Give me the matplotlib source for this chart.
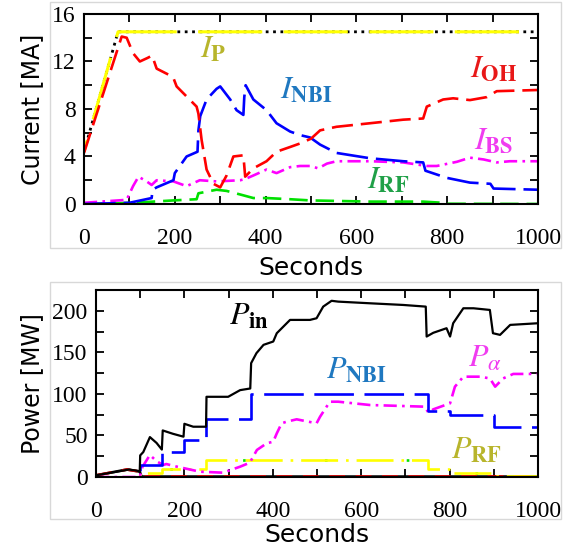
import matplotlib
matplotlib.use('Agg')
import matplotlib.pyplot as plt
from matplotlib.patches import Rectangle

plt.rcParams['mathtext.fontset'] = 'stix'

# ---- top panel: currents [MA] ----
t_ip = [0, 75, 1000]
i_p = [4.4, 14.5, 14.5]

t_oh = [0, 83, 94, 108, 123, 140, 150, 160, 196, 204, 248, 252, 259, 270, 285, 300,
        314, 329, 351, 355, 373, 402, 424, 454, 476, 500, 520, 556, 630, 703, 747,
        755, 791, 813, 850, 887, 909, 1000]
i_oh = [4.3, 14.1, 14.0, 12.7, 12.0, 12.3, 12.5, 11.4, 10.7, 9.9, 8.2, 7.6, 5.4, 2.9,
        1.7, 1.4, 2.4, 4.0, 4.1, 2.3, 3.0, 3.6, 4.4, 4.8, 5.1, 5.5, 6.2, 6.5, 6.8, 7.1,
        7.2, 8.2, 8.8, 8.9, 8.75, 9.0, 9.5, 9.6]

t_nbi = [0, 100, 149, 151, 160, 197, 200, 226, 250, 252, 256, 270, 292, 300, 322, 336,
         351, 353, 356, 373, 402, 424, 454, 476, 498, 520, 556, 630, 703, 747, 752,
         799, 850, 895, 902, 1000]
i_nbi = [0, 0.1, 0.5, 1.2, 1.4, 2.0, 2.6, 4.0, 4.4, 6.2, 7.4, 8.8, 9.7, 9.9, 8.8, 7.9,
         7.5, 9.0, 10.0, 8.8, 7.9, 6.8, 6.1, 5.8, 5.6, 5.0, 4.3, 3.85, 3.6, 3.5, 2.8,
         2.2, 1.8, 1.7, 1.3, 1.2]

t_bs = [0, 94, 108, 120, 138, 149, 160, 197, 226, 255, 292, 344, 355, 373, 402, 424,
        454, 476, 498, 516, 535, 556, 630, 703, 755, 777, 821, 850, 880, 909, 938, 1000]
i_bs = [0.1, 0.35, 1.5, 2.3, 1.9, 1.6, 2.0, 1.9, 1.5, 2.0, 1.9, 2.0, 2.1, 2.4, 2.9, 2.6,
        3.1, 3.2, 3.2, 3.0, 3.4, 3.6, 3.6, 3.5, 3.2, 3.2, 3.55, 3.9, 3.75, 3.5, 3.6, 3.6]

t_rf = [0, 108, 197, 248, 252, 292, 314, 344, 373, 402, 454, 498, 630, 747, 790, 800, 1000]
i_rf = [0, 0.1, 0.3, 0.4, 0.9, 1.2, 1.1, 0.8, 0.5, 0.5, 0.4, 0.3, 0.2, 0.2, 0.1, 0.02, 0.0]

# ---- bottom panel: powers [MW] ----
t_pin = [0, 75, 99, 100, 107, 122, 137, 149, 151, 174, 198, 200, 220, 249, 250, 273,
         299, 326, 349, 351, 363, 379, 401, 409, 424, 439, 484, 499, 514, 533, 548,
         620, 695, 746, 748, 763, 793, 801, 808, 831, 854, 891, 898, 914, 937, 1000]
p_in = [2, 9, 7, 26, 30, 48, 41, 33, 56, 52, 48.5, 64, 60.5, 60.5, 96.5, 96.5, 96.5,
        104.5, 106.5, 137, 149, 159, 163, 173, 181, 189, 189, 191, 205, 212, 211, 209,
        207, 205, 169, 173.5, 179, 169, 185, 203, 203, 201, 173, 171, 183, 185]

t_steps = [0, 100, 150, 200, 250, 350, 750, 800, 900, 1000]
p_nbi = [0, 15, 30, 45, 70, 100, 80, 75, 60, 60]

t_rfs = [0, 100, 150, 250, 750, 800, 900, 1000]
p_rf = [0, 5, 10, 20, 10, 5, 1, 1]

t_pa = [0, 99, 105, 122, 137, 152, 159, 181, 235, 287, 326, 348, 364, 386, 401, 409,
        420, 431, 454, 499, 507, 529, 548, 620, 695, 744, 752, 763, 801, 812, 831,
        869, 891, 903, 921, 944, 1000]
p_alpha = [0, 0, 12, 26.5, 19, 14.4, 15.6, 12.7, 6.4, 5.2, 12.4, 17.2, 32.5, 40.5, 42.5,
           52.5, 64.6, 66.5, 69.4, 64.6, 72.6, 90.6, 90.6, 86.6, 85.4, 84.6, 77.4, 81.4,
           88.7, 108.7, 120.7, 120.7, 118.6, 108.7, 118.6, 124, 124]

t_poh = [0, 70, 99, 103, 1000]
p_oh = [2, 9, 6.5, 0.5, 0.5]

olive = '#b8b52c'
lblue = '#1f78c0'
lmag = '#f03cf0'
lgreen = '#20a048'

fig = plt.figure(figsize=(5.73, 5.51), dpi=100)
ax1 = fig.add_axes([0.1466, 0.6298, 0.7924, 0.3448])
ax2 = fig.add_axes([0.1675, 0.1343, 0.7715, 0.3394])

# light grey frames around each panel
for y0, h in [(0.5499, 0.4465), (0.058, 0.430)]:
    fig.add_artist(Rectangle((0.0873, y0), 0.892, h, transform=fig.transFigure,
                             fill=False, edgecolor='#d8d8d8', lw=1))

lw = 1.9
ax1.plot(t_ip, i_p, color='black', lw=2, ls=':')
ax1.plot(t_ip, i_p, color='#ffff00', lw=2.2, ls=(17, (21, 7)))
ax1.plot(t_rf, i_rf, color='#00e000', lw=lw, ls=(0, (7, 3)))
ax1.plot(t_bs, i_bs, color='#ff00ff', lw=lw, ls=(0, (5, 2, 1, 2)))
ax1.plot(t_nbi, i_nbi, color='#0000ff', lw=lw, ls=(0, (12, 3)))
ax1.plot(t_oh, i_oh, color='#ff0000', lw=lw, ls=(0, (8, 3)))

ax2.plot(t_poh, p_oh, color='black', lw=lw)
ax2.plot(t_poh, p_oh, color='#ff0000', lw=lw, ls=(0, (6, 4)))
ax2.plot(t_rfs, p_rf, color='#00e000', lw=lw, drawstyle='steps-post', ls=(0, (1, 30)))
ax2.plot(t_rfs, p_rf, color='#ffff00', lw=lw, drawstyle='steps-post',
         ls=(0, (14, 3, 1, 3)))
ax2.plot(t_pa, p_alpha, color='#ff00ff', lw=lw, ls=(0, (5, 2, 1, 2)))
ax2.plot(t_steps, p_nbi, color='#0000ff', lw=lw, drawstyle='steps-post',
         ls=(0, (15, 4)))
ax2.plot(t_pin, p_in, color='black', lw=1.6)

lab = dict(ha='center', va='center', fontsize=23)
ax1.text(285, 13.0, r'$I_{\mathbf{P}}$', color=olive, **lab)
ax1.text(490, 9.7, r'$I_{\mathbf{NBI}}$', color=lblue, **lab)
ax1.text(903, 11.4, r'$I_{\mathbf{OH}}$', color='#e81818', **lab)
ax1.text(903, 5.4, r'$I_{\mathbf{BS}}$', color=lmag, **lab)
ax1.text(670, 2.0, r'$I_{\mathbf{RF}}$', color=lgreen, **lab)
ax2.text(346, 193, r'$P_{\mathbf{in}}$', color='black', **lab)
ax2.text(590, 129, r'$P_{\mathbf{NBI}}$', color=lblue, **lab)
ax2.text(880, 143, r'$P_{\alpha}$', color=lmag, **lab)
ax2.text(861, 32.5, r'$P_{\mathbf{RF}}$', color=olive, **lab)

ax1.set_ylim(0, 16)
ax1.set_yticks([0, 4, 8, 12, 16])
ax1.set_yticks(range(0, 17, 2), minor=True)
ax1.set_ylabel('Current [MA]', fontsize=17, family='DejaVu Sans', labelpad=6)

ax2.set_ylim(0, 225)
ax2.set_yticks([0, 50, 100, 150, 200])
ax2.set_yticks(range(0, 226, 25), minor=True)
ax2.set_ylabel('Power [MW]', fontsize=17, family='DejaVu Sans', labelpad=6)

for ax, lp in ((ax1, 5), (ax2, 1)):
    ax.set_xlim(0, 1000)
    ax.set_xticks(range(0, 1001, 200))
    ax.set_xticks(range(0, 1001, 100), minor=True)
    ax.set_xlabel('Seconds', fontsize=18, family='DejaVu Sans', labelpad=lp)
    ax.tick_params(which='both', direction='in', top=True, right=True,
                   length=6, width=1.3)
    ax.tick_params(axis='x', pad=17)
    ax.tick_params(axis='y', pad=6)
    for lbl in ax.get_xticklabels() + ax.get_yticklabels():
        lbl.set_family('Liberation Serif')
        lbl.set_fontsize(17)
    for s in ax.spines.values():
        s.set_linewidth(1.5)

fig.savefig('out.png', dpi=100)
